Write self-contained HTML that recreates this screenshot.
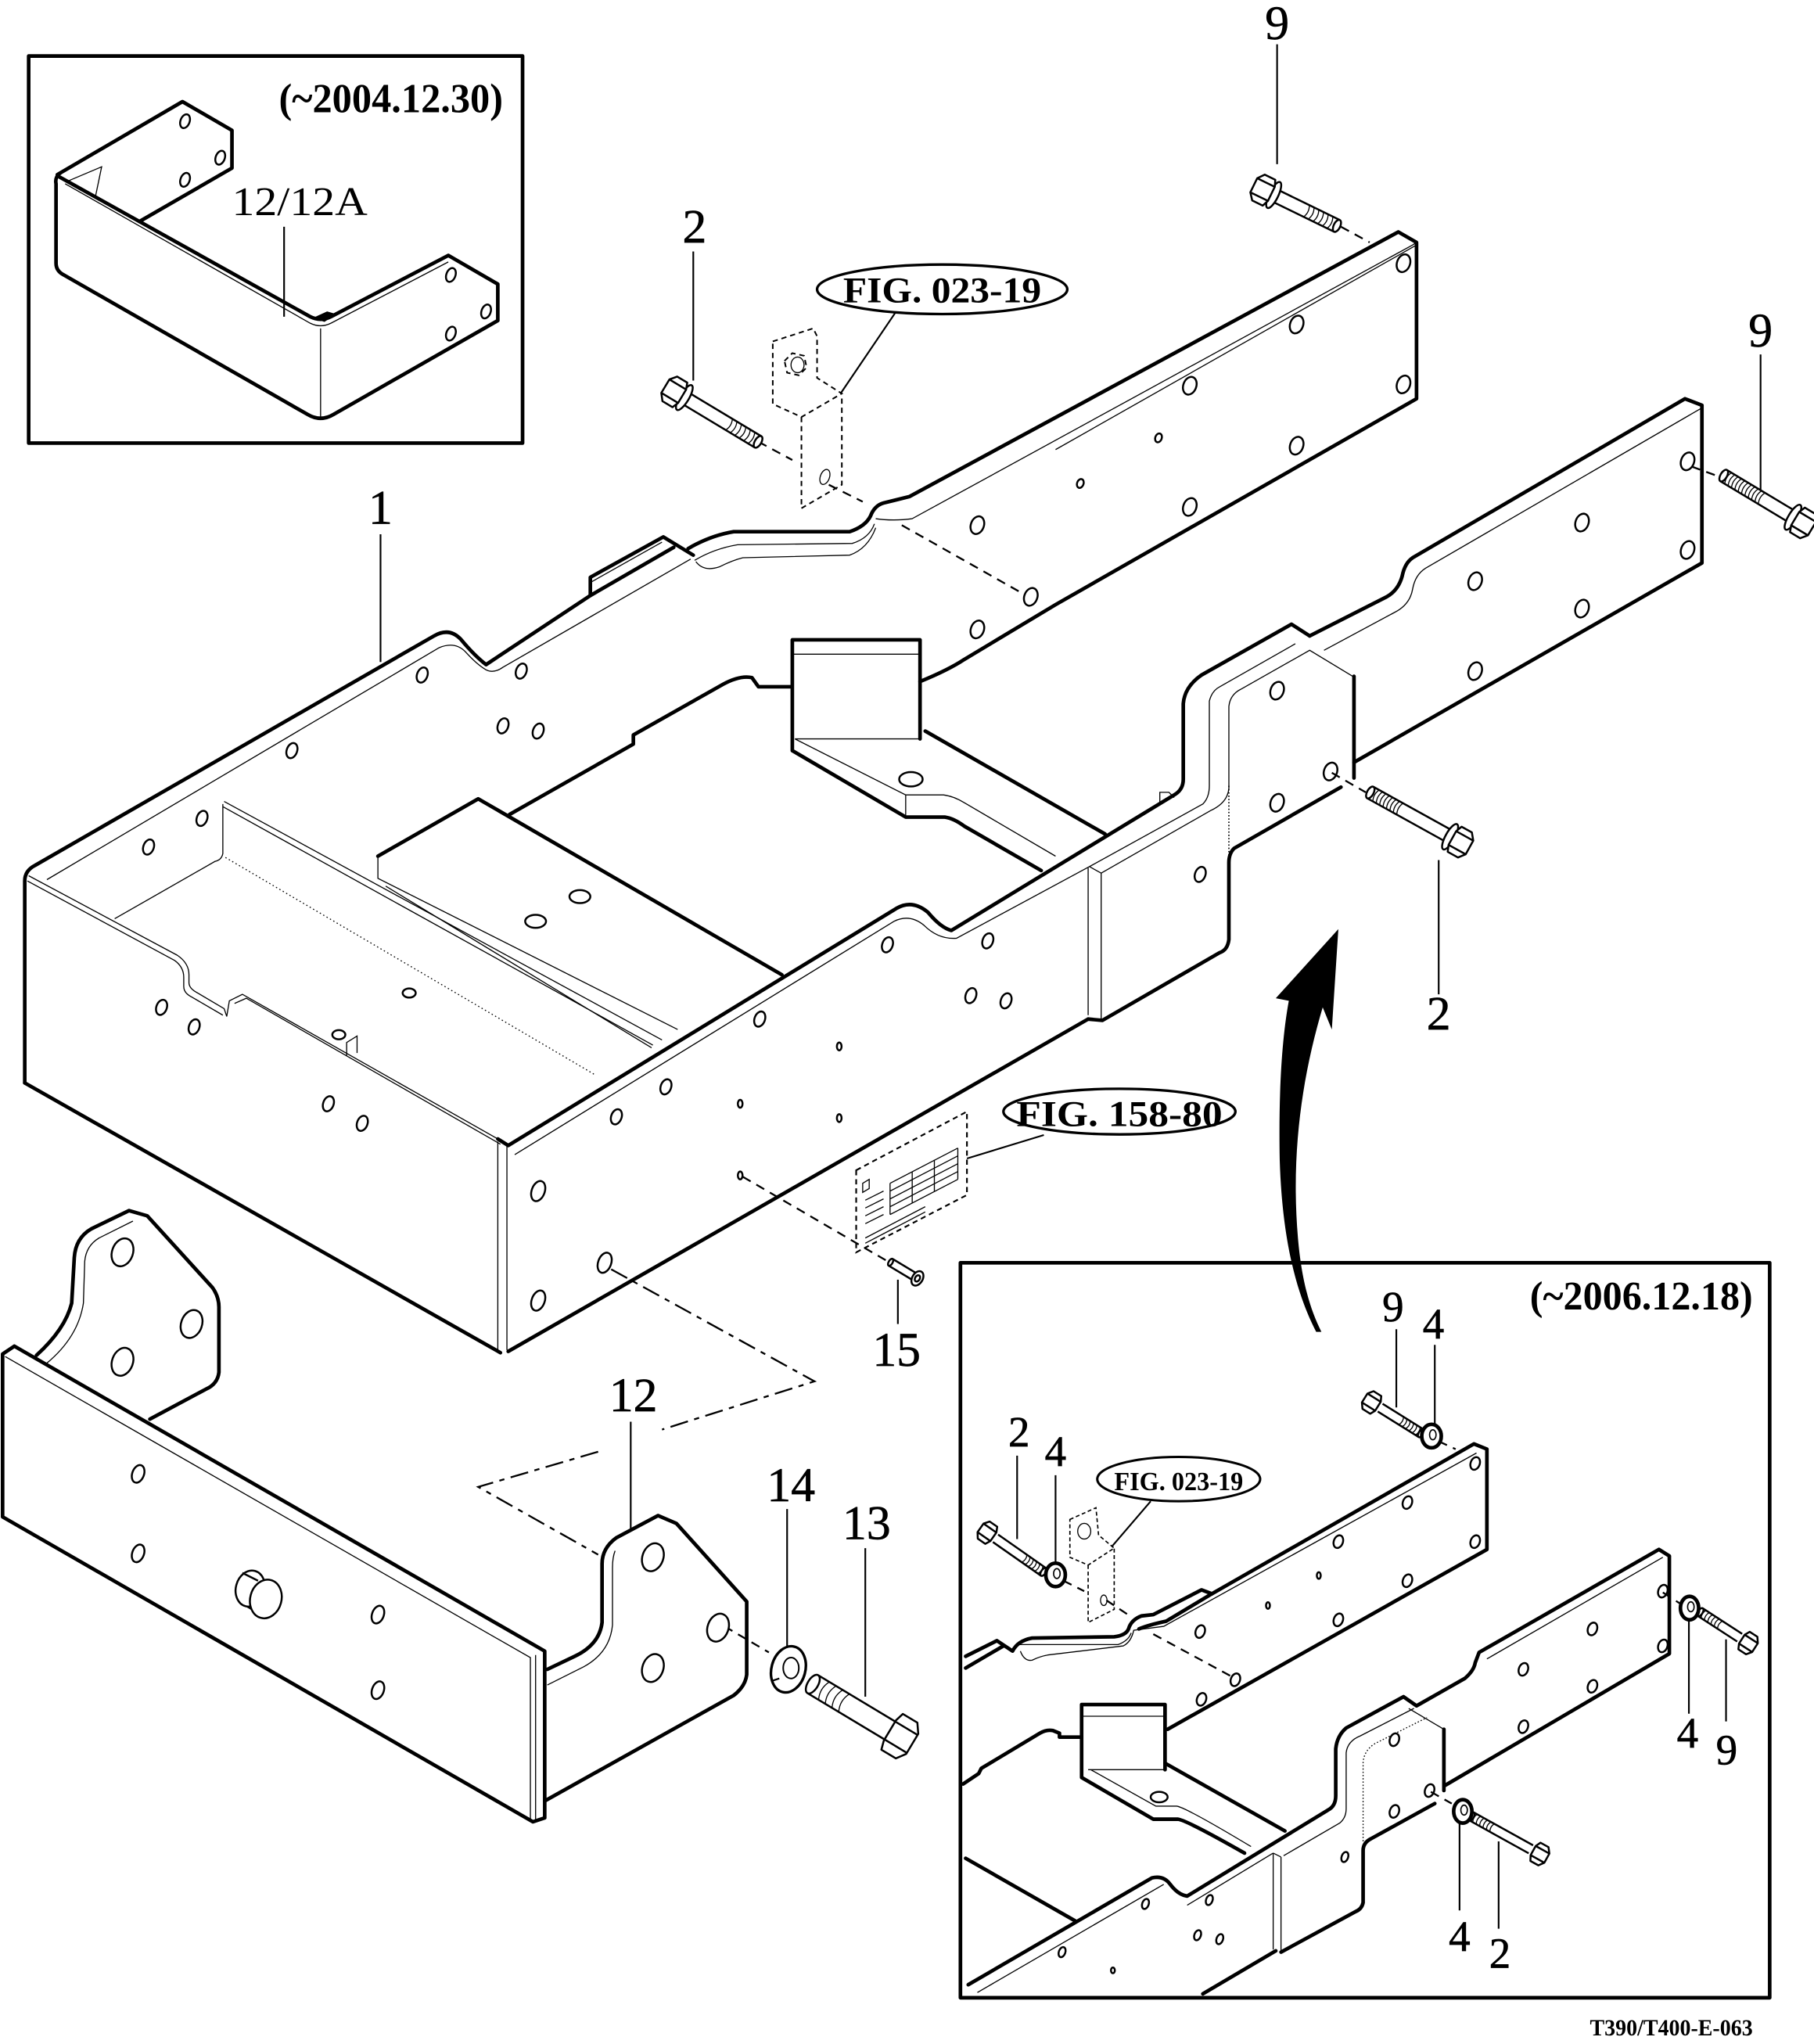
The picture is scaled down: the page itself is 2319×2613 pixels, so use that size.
<!DOCTYPE html>
<html><head><meta charset="utf-8">
<style>
html,body{margin:0;padding:0;background:#fff;}
svg{display:block}
.b{fill:none;stroke:#000;stroke-width:2.8;stroke-linejoin:round;stroke-linecap:round}
.m{stroke:#000;stroke-width:1.5;stroke-linejoin:round}
.t{fill:none;stroke:#000;stroke-width:0.8}
.l{fill:none;stroke:#000;stroke-width:1.3}
.d{fill:none;stroke:#000;stroke-width:1.4;stroke-dasharray:7 5}
.dd{fill:none;stroke:#000;stroke-width:1.4;stroke-dasharray:14 5 4 5}
.h{fill:#fff;stroke:#000;stroke-width:1.5}
.lab{font-family:"Liberation Serif",serif;font-size:37px;fill:#000;stroke:#000;stroke-width:0.4;text-anchor:middle}
.lab2{font-family:"Liberation Serif",serif;font-size:33px;fill:#000;stroke:#000;stroke-width:0.4;text-anchor:middle}
.fig{font-family:"Liberation Serif",serif;font-weight:bold;fill:#000}
</style></head><body>
<svg width="2319" height="2613" viewBox="0 0 1392 1568.5" preserveAspectRatio="none" xmlns="http://www.w3.org/2000/svg">
<rect x="0" y="0" width="1392" height="1568.5" fill="#fff"/>

<!-- ============ INSET TOP-LEFT ============ -->
<rect x="22" y="43" width="379" height="297" class="b" stroke-linecap="square"/>
<text class="fig" x="214" y="86" font-size="32" textLength="172" lengthAdjust="spacingAndGlyphs">(~2004.12.30)</text>
<path class="b" d="M44,134 L140,78 L178,100 L178,129 L107,170"/>
<path class="b" d="M46,133 Q42,136 43,141 L43,202 Q43,208 49,211 L236,318 Q246,324 256,318 L382,246 L382,218 L344,196 L254,243 Q246,247 238,243 L46,136"/>
<path class="t" d="M50,141 L238,248 Q246,252 254,248 L344,201"/>
<path class="t" d="M246,252 V320"/>
<path class="t" d="M52,139 L78,128 L73,152"/>
<path d="M240,244 L251,239 L258,241 L249,247 Z" fill="#000"/>
<g class="h">
<ellipse cx="142" cy="93" rx="3.5" ry="5.5" transform="rotate(20 142 93)"/>
<ellipse cx="169" cy="121" rx="3.5" ry="5.5" transform="rotate(20 169 121)"/>
<ellipse cx="142" cy="138" rx="3.5" ry="5.5" transform="rotate(20 142 138)"/>
<ellipse cx="346" cy="211" rx="3.5" ry="5.5" transform="rotate(20 346 211)"/>
<ellipse cx="373" cy="239" rx="3.5" ry="5.5" transform="rotate(20 373 239)"/>
<ellipse cx="346" cy="256" rx="3.5" ry="5.5" transform="rotate(20 346 256)"/>
</g>
<text x="230" y="165" font-family="Liberation Serif, serif" font-size="31" text-anchor="middle" textLength="104" lengthAdjust="spacingAndGlyphs">12/12A</text>
<path class="l" d="M218,174 V243"/>

<!-- ============ LABELS MAIN ============ -->
<text class="lab" x="980" y="30">9</text>
<path class="l" d="M980,34 V126"/>
<text class="lab" x="533" y="186">2</text>
<path class="l" d="M532,193 V292"/>
<text class="lab" x="1351" y="266">9</text>
<path class="l" d="M1351,272 V378"/>
<text class="lab" x="292" y="402">1</text>
<path class="l" d="M292,410 V508"/>
<text class="lab" x="1104" y="790">2</text>
<path class="l" d="M1104,660 V763"/>
<text class="lab" x="688" y="1048">15</text>
<path class="l" d="M689,982 V1016"/>
<text class="lab" x="486" y="1083">12</text>
<path class="l" d="M484,1091 V1174"/>
<text class="lab" x="607" y="1152">14</text>
<path class="l" d="M604,1158 V1263"/>
<text class="lab" x="665" y="1181">13</text>
<path class="l" d="M664,1188 V1302"/>

<!-- FIG 023-19 top -->
<ellipse cx="723" cy="222" rx="96" ry="19" fill="#fff" stroke="#000" stroke-width="2"/>
<text class="fig" x="647" y="232" font-size="28" textLength="152" lengthAdjust="spacingAndGlyphs">FIG. 023-19</text>
<path class="l" d="M687,240 L645,302"/>
<g fill="none" stroke="#000" stroke-width="1.2" stroke-dasharray="4 3">
<path d="M593,262 L624,252 L627,258 L627,290 L646,302 L615,320 L593,310 Z"/>
<path d="M615,320 V390 L646,372 V303"/>
<path d="M602,277 l6,-6 l9,2 l2,9 l-6,6 l-9,-2 z"/>
</g>
<ellipse cx="612" cy="280" rx="5" ry="6" class="t"/>
<ellipse cx="633" cy="366" rx="3.5" ry="6" class="t" transform="rotate(20 633 366)"/>

<!-- ============ MAIN FRAME ============ -->
<path class="b" d="M19,831 V676 Q19,668 27,664 L333,488 Q345,481 354,491 Q364,503 373,510 L453,457 L517,420"/>
<path class="b" d="M453,457 V443 L509,412 L532,426"/>
<path class="b" d="M528,421 Q545,411 563,408 L652,408 Q664,404 668,396 Q671,388 678,386 L698,381 L1073,178 L1087,186 V306 L810,464 Q770,488 740,506 Q728,514 706,523"/>
<path class="t" d="M36,675 L337,497 Q349,492 357,500 Q366,510 373,514 Q379,517 386,512 L530,429"/>
<path class="t" d="M533,430 Q548,421 566,418 L654,417 Q667,413 671,402"/>
<path class="t" d="M534,431 Q540,439 552,435 Q562,430 570,428 L652,426 Q666,421 672,405"/>
<path class="t" d="M672,398 Q685,400 700,398 L1084,188 L1087,186"/>
<path class="t" d="M453,447 L508,416"/>

<!-- front face -->
<path class="t" stroke-width="1" d="M22,672 L136,733 Q145,739 145,748 V754 Q145,758 150,761 L172,774 L174,780 L176,768 L186,763 L382,874"/>
<path class="t" stroke-width="1" d="M21,676 L134,737 Q141,742 141,750 V757 Q141,762 147,765 L171,779 M180,770 L189,766 L384,878"/>
<path class="t" d="M382,876 V1036 M389,879 V1036"/>
<path class="b" d="M19,831 L384,1038"/>
<path class="b" d="M390,1037 L835,782"/>

<!-- right rail -->
<path class="b" d="M382,874 L390,879 L688,697 Q700,690 712,700 Q722,712 730,714 L901,610 Q908,606 908,598 V540 Q909,527 922,518 L991,479 L1005,488"/>
<path class="b" d="M1005,488 L1064,458 Q1073,453 1076,442 Q1078,432 1084,428 L1293,306 L1306,311 V432 L1039,585"/>
<path class="b" d="M1039,519 V597"/>
<path class="b" d="M1029,604 L947,651 Q943,655 943,662 V721 Q942,729 936,731 L846,783 L835,782"/>
<path class="t" d="M395,886 L686,707 Q698,701 709,710 Q720,721 734,720 L836,665 L923,617 Q928,612 928,603 V538 Q930,530 936,527 L994,494"/>
<path class="t" d="M845,670 L929,622 Q942,616 943,605 V542 Q944,533 952,529 L1005,499 L1038,519"/>
<path class="t" d="M836,665 L845,670 M835,666 V779 M845,670 V783"/>
<path class="t" d="M1306,313 L1094,436 Q1086,441 1084,452 Q1082,464 1070,470 L1016,499"/>
<path class="t" d="M1087,188 L810,345"/>
<path d="M943,603 V679" stroke="#000" stroke-width="1" stroke-dasharray="1 1.5" fill="none"/>
<path class="t" d="M890,616 V608 H897 L901,612"/>

<!-- floor / cross members -->
<path class="b" d="M391,625 L486,571 V564 L555,525 Q568,518 577,520 L582,527 L607,527"/>
<path class="b" d="M290,657 L367,613 L600,748"/>
<path class="t" d="M290,658 V674 L520,790"/>
<path class="t" d="M296,680 L500,804"/>
<path class="t" d="M171,617 V655 Q170,660 165,661 L88,705"/>
<path class="t" d="M172,615 L508,798 M171,619 L501,802"/>
<path d="M173,658 L457,825" stroke="#000" stroke-width="0.8" stroke-dasharray="1 2" fill="none"/>
<path class="t" d="M266,810 V800 L274,795 V808"/>
<path class="b" d="M608,491 H706 V567 M608,491 V576 L695,627 H725 Q732,628 740,634 L799,668"/>
<path class="t" d="M608,502 H706 M610,567 H706 M610,567 L695,610 H724 Q732,611 740,616 L810,657 M695,610 V627"/>
<path class="b" d="M710,561 L848,640"/>
<ellipse cx="699" cy="598" rx="9" ry="5.5" class="h"/>
<ellipse cx="445" cy="688" rx="8" ry="5" class="h"/>
<ellipse cx="411" cy="707" rx="8" ry="5" class="h"/>

<!-- main holes -->
<g class="h">
<ellipse cx="324" cy="518" rx="4" ry="6" transform="rotate(20 324 518)"/>
<ellipse cx="400" cy="515" rx="4" ry="6" transform="rotate(20 400 515)"/>
<ellipse cx="224" cy="576" rx="4" ry="6" transform="rotate(20 224 576)"/>
<ellipse cx="155" cy="628" rx="4" ry="6" transform="rotate(20 155 628)"/>
<ellipse cx="114" cy="650" rx="4" ry="6" transform="rotate(20 114 650)"/>
<ellipse cx="386" cy="557" rx="4" ry="6" transform="rotate(20 386 557)"/>
<ellipse cx="413" cy="561" rx="4" ry="6" transform="rotate(20 413 561)"/>
<ellipse cx="124" cy="773" rx="4" ry="6" transform="rotate(20 124 773)"/>
<ellipse cx="149" cy="788" rx="4" ry="6" transform="rotate(20 149 788)"/>
<ellipse cx="252" cy="847" rx="4" ry="6" transform="rotate(20 252 847)"/>
<ellipse cx="278" cy="862" rx="4" ry="6" transform="rotate(20 278 862)"/>
<ellipse cx="314" cy="762" rx="5" ry="3.5"/>
<ellipse cx="260" cy="794" rx="5" ry="3.5"/>
<ellipse cx="413" cy="914" rx="5" ry="8" transform="rotate(20 413 914)"/>
<ellipse cx="413" cy="998" rx="5" ry="8" transform="rotate(20 413 998)"/>
<ellipse cx="464" cy="969" rx="5" ry="8" transform="rotate(20 464 969)"/>
<ellipse cx="511" cy="834" rx="4" ry="6" transform="rotate(20 511 834)"/>
<ellipse cx="473" cy="857" rx="4" ry="6" transform="rotate(20 473 857)"/>
<ellipse cx="583" cy="782" rx="4" ry="6" transform="rotate(20 583 782)"/>
<ellipse cx="681" cy="725" rx="4" ry="6" transform="rotate(20 681 725)"/>
<ellipse cx="758" cy="722" rx="4" ry="6" transform="rotate(20 758 722)"/>
<ellipse cx="745" cy="764" rx="4" ry="6" transform="rotate(20 745 764)"/>
<ellipse cx="772" cy="768" rx="4" ry="6" transform="rotate(20 772 768)"/>
<ellipse cx="644" cy="803" rx="1.8" ry="3"/>
<ellipse cx="568" cy="847" rx="1.8" ry="3"/>
<ellipse cx="644" cy="858" rx="1.8" ry="3"/>
<ellipse cx="568" cy="902" rx="1.8" ry="3"/>
<ellipse cx="980" cy="530" rx="5" ry="7" transform="rotate(20 980 530)"/>
<ellipse cx="1021" cy="592" rx="5" ry="7" transform="rotate(20 1021 592)"/>
<ellipse cx="980" cy="616" rx="5" ry="7" transform="rotate(20 980 616)"/>
<ellipse cx="921" cy="671" rx="4" ry="6" transform="rotate(20 921 671)"/>
<ellipse cx="1132" cy="446" rx="5" ry="7" transform="rotate(20 1132 446)"/>
<ellipse cx="1214" cy="401" rx="5" ry="7" transform="rotate(20 1214 401)"/>
<ellipse cx="1295" cy="354" rx="5" ry="7" transform="rotate(20 1295 354)"/>
<ellipse cx="1295" cy="422" rx="5" ry="7" transform="rotate(20 1295 422)"/>
<ellipse cx="1214" cy="467" rx="5" ry="7" transform="rotate(20 1214 467)"/>
<ellipse cx="1132" cy="515" rx="5" ry="7" transform="rotate(20 1132 515)"/>
<ellipse cx="1077" cy="202" rx="5" ry="7" transform="rotate(20 1077 202)"/>
<ellipse cx="995" cy="249" rx="5" ry="7" transform="rotate(20 995 249)"/>
<ellipse cx="913" cy="296" rx="5" ry="7" transform="rotate(20 913 296)"/>
<ellipse cx="1077" cy="295" rx="5" ry="7" transform="rotate(20 1077 295)"/>
<ellipse cx="995" cy="342" rx="5" ry="7" transform="rotate(20 995 342)"/>
<ellipse cx="913" cy="389" rx="5" ry="7" transform="rotate(20 913 389)"/>
<ellipse cx="889" cy="336" rx="2.5" ry="3.5" transform="rotate(20 889 336)"/>
<ellipse cx="829" cy="371" rx="2.5" ry="3.5" transform="rotate(20 829 371)"/>
<ellipse cx="750" cy="403" rx="5" ry="7" transform="rotate(20 750 403)"/>
<ellipse cx="750" cy="483" rx="5" ry="7" transform="rotate(20 750 483)"/>
<ellipse cx="791" cy="458" rx="5" ry="7" transform="rotate(20 791 458)"/>
</g>

<!-- label plate -->
<path d="M657,898 L742,853 V917 L657,961 Z" fill="none" stroke="#000" stroke-width="1.3" stroke-dasharray="4 3"/>
<g class="t" stroke-width="0.7">
<path d="M662,908 l5,-3 v7 l-5,3 z"/>
<path d="M664,921 l14,-7 M664,927 l14,-7 M664,933 l14,-7 M664,939 l14,-7"/>
<path d="M664,950 l46,-24 M664,954 l46,-24"/>
<path d="M683,908 l52,-27 M683,914 l52,-27 M683,920 l52,-27 M683,926 l52,-27 M683,932 l52,-27"/>
<path d="M683,908 v24 M700,899 v24 M717,890 v24 M735,881 v24"/>
</g>
<ellipse cx="859" cy="853" rx="89" ry="17.5" fill="#fff" stroke="#000" stroke-width="2"/>
<text class="fig" x="780" y="864" font-size="28" textLength="158" lengthAdjust="spacingAndGlyphs">FIG. 158-80</text>
<path class="l" d="M801,871 L742,889"/>

<!-- dashed lines main -->
<path class="d" d="M582,339 L608,353 M636,372 L662,385 M692,403 L784,455"/>
<path class="d" d="M1029,174 L1051,186"/>
<path class="d" d="M1298,358 L1320,366"/>
<path class="d" d="M1022,593 L1048,608"/>
<path class="d" d="M570,903 L683,969"/>
<path class="dd" d="M469,974 L625,1060 L508,1097 M459,1114 L367,1141 L459,1193"/>
<path class="d" d="M556,1248 L590,1268"/>

<!-- arrow -->
<path d="M1027,713 L1022,790 L1015,773 C1001,820 990,880 996,950 C999,985 1006,1006 1014,1022 L1010,1022 C996,995 984,955 982,890 C981,835 984,795 989,768 L979,766 Z" fill="#000"/>

<!-- ============ BRACKET 12 ============ -->
<path class="b" d="M28,1040 Q50,1020 55,1000 L57,965 Q58,950 70,943 L99,929 L113,933 L163,988 Q168,995 168,1003 L168,1053 Q167,1062 158,1066 L115,1089"/>
<path class="t" d="M36,1046 Q60,1026 64,1000 L65,968 Q66,956 76,950 L102,937"/>
<path class="b" d="M11,1033 L418,1267 V1395 M11,1033 L2,1039 V1164 L409,1398 L418,1395"/>
<path class="t" d="M4,1041 L407,1272 V1398 M411,1270 V1397"/>
<path class="b" d="M418,1382 L563,1301 Q572,1294 573,1285 V1229 L519,1169 L505,1163 L473,1180 Q462,1188 462,1200 V1245 Q460,1262 441,1271 L420,1281"/>
<path class="t" d="M472,1190 Q470,1195 470,1203 V1247 Q468,1268 448,1279 L420,1293"/>
<g class="h">
<ellipse cx="94" cy="961" rx="8" ry="11" transform="rotate(20 94 961)"/>
<ellipse cx="147" cy="1016" rx="8" ry="11" transform="rotate(20 147 1016)"/>
<ellipse cx="94" cy="1045" rx="8" ry="11" transform="rotate(20 94 1045)"/>
<ellipse cx="501" cy="1195" rx="8" ry="11" transform="rotate(20 501 1195)"/>
<ellipse cx="551" cy="1249" rx="8" ry="11" transform="rotate(20 551 1249)"/>
<ellipse cx="501" cy="1280" rx="8" ry="11" transform="rotate(20 501 1280)"/>
<ellipse cx="106" cy="1131" rx="4.5" ry="7" transform="rotate(20 106 1131)"/>
<ellipse cx="106" cy="1192" rx="4.5" ry="7" transform="rotate(20 106 1192)"/>
<ellipse cx="290" cy="1239" rx="4.5" ry="7" transform="rotate(20 290 1239)"/>
<ellipse cx="290" cy="1297" rx="4.5" ry="7" transform="rotate(20 290 1297)"/>
</g>
<ellipse cx="192" cy="1219" rx="11" ry="14" class="h" transform="rotate(15 192 1219)"/>
<path d="M188,1207 L200,1213 L208,1244 L196,1238 Z" fill="#fff"/>
<path class="m" fill="none" d="M186,1207 L198,1213 M190,1233 L202,1240"/>
<ellipse cx="204" cy="1227" rx="12" ry="15" class="h" stroke-width="1.8" transform="rotate(15 204 1227)"/>

<!-- washer 14 -->
<ellipse cx="605" cy="1281" rx="13" ry="18" fill="#fff" stroke="#000" stroke-width="2" transform="rotate(15 605 1281)"/>
<ellipse cx="607" cy="1280" rx="6" ry="8" fill="#fff" stroke="#000" stroke-width="1.2"/>
<path class="l" d="M592,1290 L598,1288"/>

<!-- ============ BOLTS MAIN ============ -->
<g transform="translate(520,302) rotate(31)">
<rect x="8" y="-5" width="64" height="10" fill="#fff"/>
<path class="m" fill="none" d="M8,-5 H72 M8,5 H72"/>
<path class="t" d="M46,-5 q2.5,5 0,10 M50,-5 q2.5,5 0,10 M54,-5 q2.5,5 0,10 M58,-5 q2.5,5 0,10 M62,-5 q2.5,5 0,10 M66,-5 q2.5,5 0,10"/>
<ellipse cx="72" cy="0" rx="2.5" ry="5" class="m" fill="#fff"/>
<ellipse cx="6" cy="0" rx="3.5" ry="11" class="m" fill="#fff"/>
<path class="m" fill="#fff" d="M-11,-6 L-7,-11 L2,-11 L4,-6 V6 L2,11 L-7,11 L-11,6 Z M-11,-6 H4 M-11,6 H4"/>
</g>
<g transform="translate(972,147) rotate(26)">
<rect x="8" y="-5" width="52" height="10" fill="#fff"/>
<path class="m" fill="none" d="M8,-5 H60 M8,5 H60"/>
<path class="t" d="M34,-5 q2.5,5 0,10 M38,-5 q2.5,5 0,10 M42,-5 q2.5,5 0,10 M46,-5 q2.5,5 0,10 M50,-5 q2.5,5 0,10 M54,-5 q2.5,5 0,10"/>
<ellipse cx="60" cy="0" rx="2.5" ry="5" class="m" fill="#fff"/>
<ellipse cx="6" cy="0" rx="3.5" ry="11" class="m" fill="#fff"/>
<path class="m" fill="#fff" d="M-11,-6 L-7,-11 L2,-11 L4,-6 V6 L2,11 L-7,11 L-11,6 Z M-11,-6 H4 M-11,6 H4"/>
</g>
<g transform="translate(1381,400) rotate(211)">
<rect x="8" y="-5" width="60" height="10" fill="#fff"/>
<path class="m" fill="none" d="M8,-5 H68 M8,5 H68"/>
<path class="t" d="M34,-5 q2.5,5 0,10 M37,-5 q2.5,5 0,10 M40,-5 q2.5,5 0,10 M43,-5 q2.5,5 0,10 M46,-5 q2.5,5 0,10 M49,-5 q2.5,5 0,10 M52,-5 q2.5,5 0,10 M55,-5 q2.5,5 0,10 M58,-5 q2.5,5 0,10 M61,-5 q2.5,5 0,10 M64,-5 q2.5,5 0,10"/>
<ellipse cx="68" cy="0" rx="2.5" ry="5" class="m" fill="#fff"/>
<ellipse cx="6" cy="0" rx="3.5" ry="11" class="m" fill="#fff"/>
<path class="m" fill="#fff" d="M-11,-6 L-7,-11 L2,-11 L4,-6 V6 L2,11 L-7,11 L-11,6 Z M-11,-6 H4 M-11,6 H4"/>
</g>
<g transform="translate(1118,645) rotate(209)">
<rect x="8" y="-5" width="68" height="10" fill="#fff"/>
<path class="m" fill="none" d="M8,-5 H76 M8,5 H76"/>
<path class="t" d="M50,-5 q2.5,5 0,10 M53,-5 q2.5,5 0,10 M56,-5 q2.5,5 0,10 M59,-5 q2.5,5 0,10 M62,-5 q2.5,5 0,10 M65,-5 q2.5,5 0,10 M68,-5 q2.5,5 0,10 M71,-5 q2.5,5 0,10"/>
<ellipse cx="76" cy="0" rx="2.5" ry="5" class="m" fill="#fff"/>
<ellipse cx="6" cy="0" rx="3.5" ry="11" class="m" fill="#fff"/>
<path class="m" fill="#fff" d="M-11,-6 L-7,-11 L2,-11 L4,-6 V6 L2,11 L-7,11 L-11,6 Z M-11,-6 H4 M-11,6 H4"/>
</g>
<g transform="translate(688,1331) rotate(211)">
<rect x="6" y="-8" width="69" height="16" fill="#fff"/>
<path class="m" fill="none" d="M6,-8 H75 M6,8 H75" stroke-width="1.8"/>
<path class="t" stroke-width="1" d="M47,-8 q4,8 0,16 M53,-8 q4,8 0,16 M59,-8 q4,8 0,16 M65,-8 q4,8 0,16"/>
<ellipse cx="75" cy="0" rx="4" ry="8" class="m" fill="#fff" stroke-width="1.8"/>
<path class="m" fill="#fff" stroke-width="1.8" d="M-14,-9 L-9,-16 L4,-16 L6,-9 V9 L4,16 L-9,16 L-14,9 Z M-14,-8 H6 M-14,8 H6"/>
</g>
<g transform="translate(704,981) rotate(211)">
<rect x="4" y="-3" width="20" height="6" fill="#fff"/>
<path class="m" fill="none" d="M4,-3 H24 M4,3 H24"/>
<ellipse cx="24" cy="0" rx="1.5" ry="3" class="m" fill="#fff"/>
<ellipse cx="0" cy="0" rx="4" ry="6" class="m" fill="#fff"/>
<ellipse cx="0" cy="0" rx="1.8" ry="2.6" class="m" fill="#fff"/>
</g>

<!-- ============ INSET BOTTOM-RIGHT ============ -->
<rect x="737" y="969" width="621" height="564" class="b" stroke-linecap="square"/>
<text class="fig" x="1174" y="1005" font-size="31" textLength="171" lengthAdjust="spacingAndGlyphs">(~2006.12.18)</text>
<text class="fig" x="1220" y="1562" font-size="18" textLength="125" lengthAdjust="spacingAndGlyphs">T390/T400-E-063</text>

<!-- upper rail inset -->
<path class="b" d="M741,1271 L765,1259 L777,1267 Q781,1259 792,1257 L855,1256 Q864,1255 866,1250 Q868,1243 876,1240 L885,1239 L922,1220 L930,1223 L1131,1108 L1141,1112 V1189 L896,1327"/>
<path class="b" d="M930,1223 L895,1244 Q881,1247 874,1250"/>
<path class="b" d="M741,1280 L770,1263"/>
<path class="t" d="M783,1267 Q786,1275 792,1274 Q798,1271 804,1270 L862,1263 Q868,1260 870,1251 L893,1248 L1133,1115"/>
<path class="t" d="M780,1262 Q790,1262 800,1262 L858,1262 Q866,1259 868,1253"/>

<!-- lower rail inset -->
<path class="b" d="M743,1523 L884,1441 Q893,1439 898,1446 Q904,1454 911,1455 L1019,1389 Q1025,1386 1025,1378 V1342 Q1026,1332 1033,1326 L1077,1302 L1087,1309 L1124,1288 Q1131,1282 1132,1276 L1135,1268 L1273,1189 L1281,1194 V1269 L1109,1370"/>
<path class="b" d="M1108,1327 V1374"/>
<path class="t" d="M1081,1311 L1108,1327"/>
<path class="b" d="M1101,1384 L1052,1411 Q1046,1414 1046,1420 V1460 Q1045,1465 1040,1467 L983,1498"/>
<path class="b" d="M923,1530 L979,1497"/>
<path class="t" d="M977,1422 V1496 M983,1425 V1498 M977,1422 L983,1425"/>
<path class="t" d="M985,1424 L1028,1399 Q1033,1395 1033,1388 V1345 Q1034,1336 1044,1332 L1085,1311"/>
<path class="t" d="M1046,1413 V1352 Q1047,1343 1055,1338 L1095,1318" stroke-dasharray="1 1.5"/>
<path class="t" d="M750,1529 L893,1446"/>
<path class="t" d="M911,1462 L977,1422"/>
<path class="t" d="M1276,1195 L1141,1273"/>
<!-- cross block inset -->
<path class="b" d="M830,1308 H894 V1358 M830,1308 V1364 L885,1396 H904 Q911,1397 955,1422"/>
<path class="t" d="M830,1317 H894 M835,1358 H894 M837,1358 L887,1386 H903 Q910,1387 960,1417"/>
<path class="b" d="M894,1353 L986,1405"/>
<ellipse cx="889.5" cy="1379" rx="6.5" ry="4" class="h"/>
<path class="b" d="M739,1369 L751,1361 L753,1357 L798,1330 Q803,1327 808,1328 L813,1330 V1333 L830,1333"/>
<path class="b" d="M741,1426 L825,1474"/>
<!-- inset holes -->
<g class="h" stroke-width="1.3">
<ellipse cx="1132" cy="1123" rx="3.5" ry="5" transform="rotate(20 1132 1123)"/>
<ellipse cx="1132" cy="1183" rx="3.5" ry="5" transform="rotate(20 1132 1183)"/>
<ellipse cx="1080" cy="1153" rx="3.5" ry="5" transform="rotate(20 1080 1153)"/>
<ellipse cx="1080" cy="1213" rx="3.5" ry="5" transform="rotate(20 1080 1213)"/>
<ellipse cx="1027" cy="1183" rx="3.5" ry="5" transform="rotate(20 1027 1183)"/>
<ellipse cx="1027" cy="1243" rx="3.5" ry="5" transform="rotate(20 1027 1243)"/>
<ellipse cx="921" cy="1252" rx="3.5" ry="5" transform="rotate(20 921 1252)"/>
<ellipse cx="922" cy="1304" rx="3.5" ry="5" transform="rotate(20 922 1304)"/>
<ellipse cx="948" cy="1289" rx="3.5" ry="5" transform="rotate(20 948 1289)"/>
<ellipse cx="1012" cy="1209" rx="1.5" ry="2.5"/>
<ellipse cx="973" cy="1232" rx="1.5" ry="2.5"/>
<ellipse cx="1276" cy="1221" rx="3.5" ry="5" transform="rotate(20 1276 1221)"/>
<ellipse cx="1276" cy="1263" rx="3.5" ry="5" transform="rotate(20 1276 1263)"/>
<ellipse cx="1222" cy="1250" rx="3.5" ry="5" transform="rotate(20 1222 1250)"/>
<ellipse cx="1222" cy="1294" rx="3.5" ry="5" transform="rotate(20 1222 1294)"/>
<ellipse cx="1169" cy="1281" rx="3.5" ry="5" transform="rotate(20 1169 1281)"/>
<ellipse cx="1169" cy="1325" rx="3.5" ry="5" transform="rotate(20 1169 1325)"/>
<ellipse cx="1070" cy="1335" rx="3.5" ry="5" transform="rotate(20 1070 1335)"/>
<ellipse cx="1097" cy="1374" rx="3.5" ry="5" transform="rotate(20 1097 1374)"/>
<ellipse cx="1070" cy="1390" rx="3.5" ry="5" transform="rotate(20 1070 1390)"/>
<ellipse cx="1032" cy="1425" rx="2.5" ry="4" transform="rotate(20 1032 1425)"/>
<ellipse cx="879" cy="1461" rx="2.5" ry="4" transform="rotate(20 879 1461)"/>
<ellipse cx="928" cy="1458" rx="2.5" ry="4" transform="rotate(20 928 1458)"/>
<ellipse cx="919" cy="1485" rx="2.5" ry="4" transform="rotate(20 919 1485)"/>
<ellipse cx="936" cy="1488" rx="2.5" ry="4" transform="rotate(20 936 1488)"/>
<ellipse cx="815" cy="1498" rx="2.5" ry="4" transform="rotate(20 815 1498)"/>
<ellipse cx="854" cy="1512" rx="1.5" ry="2.2"/>
</g>
<!-- dashed bracket inset -->
<g fill="none" stroke="#000" stroke-width="1" stroke-dasharray="3 2">
<path d="M821,1166 L841,1157 L843,1178 L855,1188 L835,1201 L821,1195 Z"/>
<path d="M835,1201 V1245 L855,1235 V1188"/>
</g>
<ellipse cx="832" cy="1175" rx="5" ry="6" class="t"/>
<ellipse cx="847" cy="1228" rx="2.5" ry="4" class="t"/>
<ellipse cx="904.5" cy="1135" rx="62.5" ry="17" fill="#fff" stroke="#000" stroke-width="1.8"/>
<text class="fig" x="855" y="1143.5" font-size="20" textLength="99" lengthAdjust="spacingAndGlyphs">FIG. 023-19</text>
<path class="l" d="M883,1152 L853,1187"/>
<!-- inset dashed -->
<path class="d" stroke-dasharray="5 4" d="M816,1213 L832,1221 M849,1228 L867,1240 M885,1254 L946,1287"/>
<path class="d" stroke-dasharray="5 4" d="M1104,1106 L1117,1112"/>
<path class="d" stroke-dasharray="5 4" d="M1276,1222 L1290,1231"/>
<path class="d" stroke-dasharray="5 4" d="M1098,1375 L1114,1384"/>
<!-- inset bolts -->
<g transform="translate(1054,1077) rotate(32)">
<rect x="6" y="-3.5" width="37" height="7" fill="#fff"/>
<path class="m" fill="none" d="M6,-3.5 H43 M6,3.5 H43"/>
<path class="t" d="M25,-3.5 q2,3.5 0,7 M28,-3.5 q2,3.5 0,7 M31,-3.5 q2,3.5 0,7 M34,-3.5 q2,3.5 0,7 M37,-3.5 q2,3.5 0,7 M40,-3.5 q2,3.5 0,7"/>
<ellipse cx="43" cy="0" rx="1.8" ry="3.5" class="m" fill="#fff"/>
<path class="m" fill="#fff" stroke-width="2" d="M-8,-4 L-5,-8 L2,-8 L4,-4 V4 L2,8 L-5,8 L-8,4 Z M-8,-4 H4 M-8,4 H4"/>
</g>
<g transform="translate(759,1177) rotate(35)">
<rect x="6" y="-3.5" width="45" height="7" fill="#fff"/>
<path class="m" fill="none" d="M6,-3.5 H51 M6,3.5 H51"/>
<path class="t" d="M33,-3.5 q2,3.5 0,7 M36,-3.5 q2,3.5 0,7 M39,-3.5 q2,3.5 0,7 M42,-3.5 q2,3.5 0,7 M45,-3.5 q2,3.5 0,7 M48,-3.5 q2,3.5 0,7"/>
<ellipse cx="51" cy="0" rx="1.8" ry="3.5" class="m" fill="#fff"/>
<path class="m" fill="#fff" stroke-width="2" d="M-8,-4 L-5,-8 L2,-8 L4,-4 V4 L2,8 L-5,8 L-8,4 Z M-8,-4 H4 M-8,4 H4"/>
</g>
<g transform="translate(1340,1260) rotate(213)">
<rect x="6" y="-3.5" width="36" height="7" fill="#fff"/>
<path class="m" fill="none" d="M6,-3.5 H42 M6,3.5 H42"/>
<path class="t" d="M24,-3.5 q2,3.5 0,7 M27,-3.5 q2,3.5 0,7 M30,-3.5 q2,3.5 0,7 M33,-3.5 q2,3.5 0,7 M36,-3.5 q2,3.5 0,7 M39,-3.5 q2,3.5 0,7"/>
<ellipse cx="42" cy="0" rx="1.8" ry="3.5" class="m" fill="#fff"/>
<path class="m" fill="#fff" stroke-width="2" d="M-8,-4 L-5,-8 L2,-8 L4,-4 V4 L2,8 L-5,8 L-8,4 Z M-8,-4 H4 M-8,4 H4"/>
</g>
<g transform="translate(1180,1422) rotate(209)">
<rect x="6" y="-3.5" width="52" height="7" fill="#fff"/>
<path class="m" fill="none" d="M6,-3.5 H58 M6,3.5 H58"/>
<path class="t" d="M40,-3.5 q2,3.5 0,7 M43,-3.5 q2,3.5 0,7 M46,-3.5 q2,3.5 0,7 M49,-3.5 q2,3.5 0,7 M52,-3.5 q2,3.5 0,7 M55,-3.5 q2,3.5 0,7"/>
<ellipse cx="58" cy="0" rx="1.8" ry="3.5" class="m" fill="#fff"/>
<path class="m" fill="#fff" stroke-width="2" d="M-8,-4 L-5,-8 L2,-8 L4,-4 V4 L2,8 L-5,8 L-8,4 Z M-8,-4 H4 M-8,4 H4"/>
</g>
<!-- inset washers -->
<g fill="#fff" stroke="#000">
<ellipse cx="1098.5" cy="1102" rx="7.5" ry="9" stroke-width="2.8"/>
<ellipse cx="1099.5" cy="1101" rx="2.5" ry="3.8" stroke-width="1"/>
<ellipse cx="810" cy="1208.5" rx="7.5" ry="9" stroke-width="2.8"/>
<ellipse cx="811" cy="1207.5" rx="2.5" ry="3.8" stroke-width="1"/>
<ellipse cx="1296.5" cy="1234" rx="7" ry="9" stroke-width="2.8"/>
<ellipse cx="1297.5" cy="1233" rx="2.5" ry="3.8" stroke-width="1"/>
<ellipse cx="1122.5" cy="1390" rx="7" ry="9" stroke-width="2.8"/>
<ellipse cx="1123.5" cy="1389" rx="2.5" ry="3.8" stroke-width="1"/>
</g>
<!-- inset labels -->
<text class="lab2" x="1069" y="1014">9</text>
<path class="l" d="M1071.5,1020 V1080"/>
<text class="lab2" x="1100" y="1027">4</text>
<path class="l" d="M1101,1032 V1093"/>
<text class="lab2" x="782" y="1110">2</text>
<path class="l" d="M780.5,1117 V1181"/>
<text class="lab2" x="810" y="1125">4</text>
<path class="l" d="M810,1132 V1199"/>
<text class="lab2" x="1295" y="1341">4</text>
<path class="l" d="M1296,1244 V1315"/>
<text class="lab2" x="1325" y="1354">9</text>
<path class="l" d="M1324.5,1258 V1321"/>
<text class="lab2" x="1120" y="1497">4</text>
<path class="l" d="M1120,1399 V1466"/>
<text class="lab2" x="1151" y="1510">2</text>
<path class="l" d="M1150,1413 V1480"/>
</svg>
</body></html>
